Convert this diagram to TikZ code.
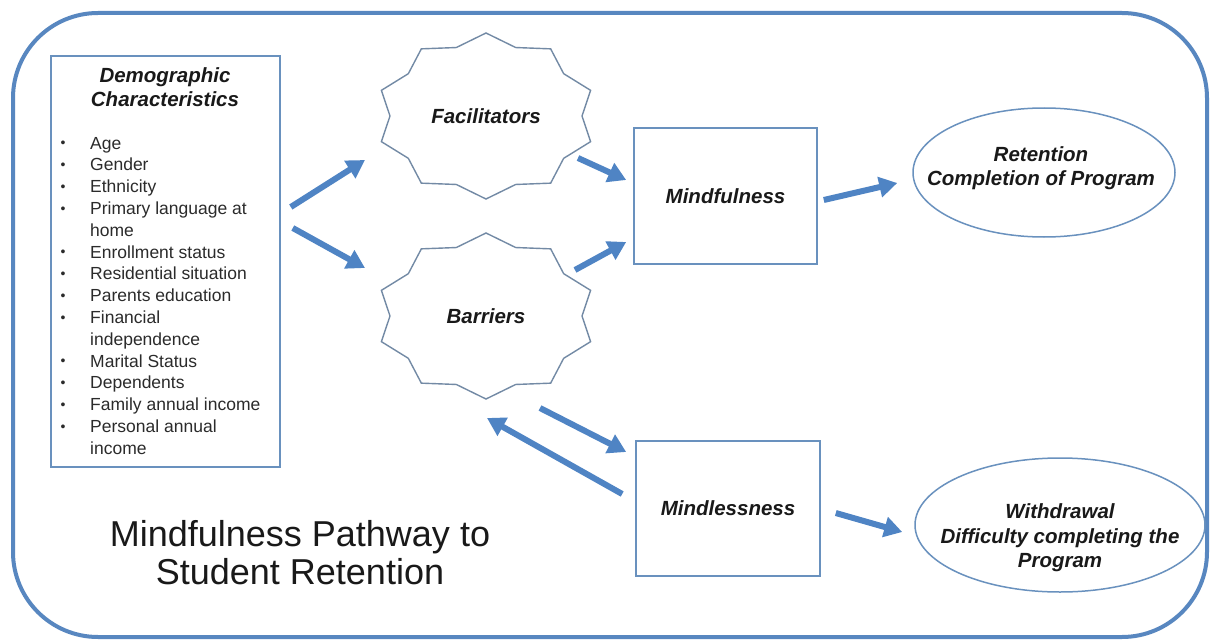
\documentclass[tikz,border=0pt]{standalone}
\usepackage{fontspec}
\setmainfont{Liberation Sans}
\usetikzlibrary{arrows.meta,calc,shapes.geometric}
\definecolor{frameblue}{RGB}{88,135,192}
\definecolor{arrowblue}{RGB}{79,132,196}
\definecolor{boxblue}{RGB}{105,145,190}
\definecolor{sealgray}{RGB}{115,138,165}
\definecolor{ink}{RGB}{25,25,25}
\begin{document}
\begin{tikzpicture}[x=1pt,y=-1pt,
  lbl/.style={font=\fontsize{20.5}{24.5}\selectfont\bfseries\itshape, align=center, text=ink, inner sep=0pt},
  itemtext/.style={font=\fontsize{17.5}{21.8}\selectfont, anchor=base west, inner sep=0pt, text=ink!92},
  bulletnode/.style={font=\fontsize{14}{15}\selectfont, inner sep=0pt, text=ink!92},
  box/.style={draw=boxblue, line width=1.6pt, rectangle, inner sep=0pt},
  oval/.style={draw=boxblue, line width=1.5pt, ellipse, inner sep=0pt},
  seal/.style={draw=sealgray, line width=1.4pt, line join=miter},
  arr/.style={draw=arrowblue, line width=6pt, -{Triangle[length=18pt,width=20pt]}}
]
\useasboundingbox (0,0) rectangle (1211,642);
\fill[white] (0,0) rectangle (1211,642);
\draw[frameblue, line width=4pt, rounded corners=85pt] (13,13) rectangle (1207,637);

% demographic box
\node[box, minimum width=229, minimum height=411] (demo) at (165.5,261.5) {};
\node[lbl] (demoT) at (165,87) {Demographic\\Characteristics};
\foreach \b/\t [count=\i] in {1/Age,1/Gender,1/Ethnicity,1/Primary language at,0/home,1/Enrollment status,1/Residential situation,1/Parents education,1/Financial,0/independence,1/Marital Status,1/Dependents,1/Family annual income,1/Personal annual,0/income}{
  \node[itemtext] (it\i) at (90,{149+(\i-1)*21.8}) {\t};
  \ifnum\b=1 \node[bulletnode] (bu\i) at (63,{144.5+(\i-1)*21.8}) {\textbullet}; \fi
}

% seals
\node[lbl] (fac) at (486,116) {Facilitators};
\draw[seal] (fac.center) +(90:110pt and 83pt)
  \foreach \a in {90,126,...,414} { -- +({\a+18}:96pt and 72pt) -- +({\a+36}:110pt and 83pt)} -- cycle;
\node[lbl] (bar) at (486,316) {Barriers};
\draw[seal] (bar.center) +(90:110pt and 83pt)
  \foreach \a in {90,126,...,414} { -- +({\a+18}:96pt and 72pt) -- +({\a+36}:110pt and 83pt)} -- cycle;

% boxes
\node[box, lbl, minimum width=183, minimum height=136] (mf) at (725.5,196) {Mindfulness};
\node[box, lbl, minimum width=184, minimum height=135] (ml) at (728,508.5) {Mindlessness};

% ovals
\node[oval, minimum width=262, minimum height=129] (ret) at (1044,172.5) {};
\node[lbl] (retT) at (1041,168) {Retention\\Completion of Program};
\node[oval, minimum width=290, minimum height=134] (wd) at (1060,525) {};
\node[lbl] (wdT) at (1060,538) {Withdrawal\\Difficulty completing the\\Program};

% title
\node[font=\fontsize{36}{38}\selectfont, align=center, text=ink, inner sep=0pt] (ttl) at (300,553) {Mindfulness Pathway to\\Student Retention};

% arrows
\draw[arr] ($(demo.east)+(10,-54.5)$) -- ($(fac.center)+(-121,44)$);
\draw[arr] ($(demo.east)+(12,-33.5)$) -- ($(bar.center)+(-121,-48)$);
\draw[arr] ($(fac.center)+(92,42)$) -- ($(mf.west)+(-7,-16)$);
\draw[arr] ($(bar.center)+(89,-46)$) -- ($(mf.west)+(-7,46)$);
\draw[arr] ($(mf.east)+(6,4)$) -- ($(ret.west)+(-15,10.5)$);
\draw[arr] ($(ml.east)+(15,4.5)$) -- ($(wd.west)+(-12,7)$);
\draw[arr] ($(bar.center)+(54,92)$) -- ($(ml.west)+(-9,-56.5)$);
\draw[arr] ($(ml.west)+(-13,-14.5)$) -- ($(bar.center)+(1,102)$);
\end{tikzpicture}
\end{document}
